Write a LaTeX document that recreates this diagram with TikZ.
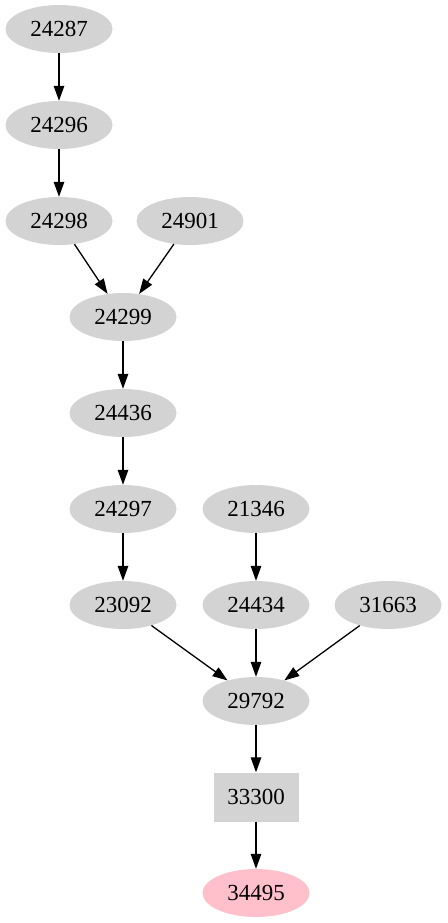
\documentclass[tikz,border=0pt]{standalone}
\usepackage{fontspec}
\setmainfont{Liberation Serif}
\usetikzlibrary{arrows.meta, shapes.geometric}

\definecolor{nodegray}{HTML}{D3D3D3}
\definecolor{nodepink}{HTML}{FFC0CB}

\tikzset{
  job/.style={ellipse, fill=nodegray, minimum width=107pt, minimum height=48pt,
    inner sep=0pt, font=\fontsize{23}{26}\selectfont},
  jobbox/.style={rectangle, fill=nodegray, minimum width=85pt, minimum height=49pt,
    inner sep=0pt, font=\fontsize{23}{26}\selectfont},
  jobend/.style={job, fill=nodepink},
  dep/.style={-{Triangle[length=15pt,width=10.5pt]}, line width=1.3pt}
}

\begin{document}
\begin{tikzpicture}[x=1pt, y=-1pt]
  \useasboundingbox (0,0) rectangle (447,923);

  % upper chain
  \node[job] (n24287) at (59,29) {24287};
  \node[job] (n24296) at (59,125) {24296};
  \node[job] (n24298) at (59,221) {24298};
  \node[job] (n24901) at (190,221) {24901};
  \node[job] (n24299) at (123,317) {24299};
  \node[job] (n24436) at (123,413) {24436};
  \node[job] (n24297) at (123,509) {24297};
  \node[job] (n21346) at (256,509) {21346};

  % lower part
  \node[job] (n23092) at (123,605) {23092};
  \node[job] (n24434) at (256,605) {24434};
  \node[job] (n31663) at (388,605) {31663};
  \node[job] (n29792) at (256,701) {29792};
  \node[jobbox] (n33300) at (256,797) {33300};
  \node[jobend] (n34495) at (256,893) {34495};

  \draw[dep] (n24287) -- (n24296);
  \draw[dep] (n24296) -- (n24298);
  \draw[dep] (n24298) -- (n24299);
  \draw[dep] (n24901) -- (n24299);
  \draw[dep] (n24299) -- (n24436);
  \draw[dep] (n24436) -- (n24297);
  \draw[dep] (n24297) -- (n23092);
  \draw[dep] (n21346) -- (n24434);
  \draw[dep] (n23092) -- (n29792);
  \draw[dep] (n24434) -- (n29792);
  \draw[dep] (n31663) -- (n29792);
  \draw[dep] (n29792) -- (n33300);
  \draw[dep] (n33300) -- (n34495);
\end{tikzpicture}
\end{document}
